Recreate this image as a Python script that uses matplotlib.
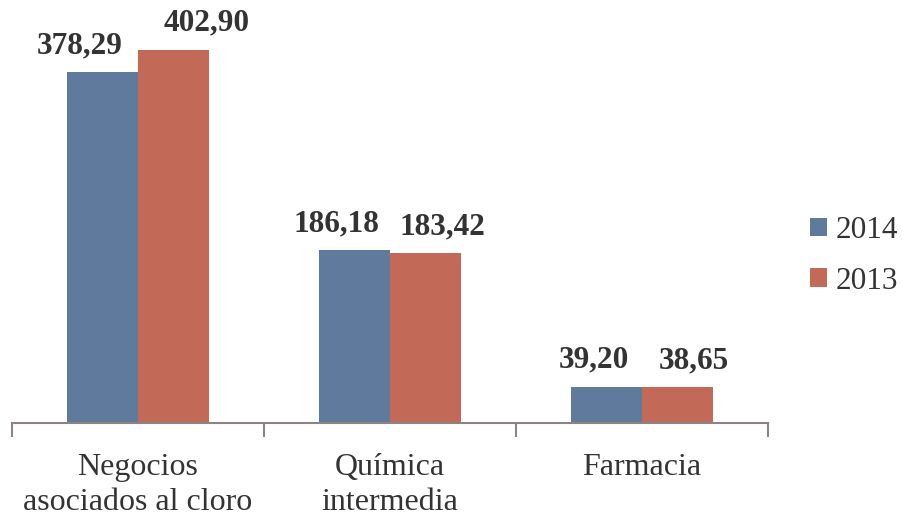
import matplotlib
matplotlib.use("Agg")
import matplotlib.pyplot as plt
import numpy as np

categories = ["Negocios\nasociados al cloro", "Química\nintermedia", "Farmacia"]
series_names = ["2014", "2013"]
values_2014 = [378.29, 186.18, 39.20]
values_2013 = [402.90, 183.42, 38.65]
labels_2014 = ["378,29", "186,18", "39,20"]
labels_2013 = ["402,90", "183,42", "38,65"]

# horizontal nudges (pixels) of the value labels, as placed in the reference
nudge_2014 = [-23, -18, -13]
nudge_2013 = [33, 17, 17]

colors = ["#5F7A9C", "#C26958"]
plt.rcParams['font.family'] = ['Liberation Serif', 'DejaVu Serif']

fig = plt.figure(figsize=(9.03, 5.16), dpi=100)
ax = fig.add_axes([12/903, (516-423)/516, (768-12)/903, (423-6)/516])

x = np.arange(len(categories))
w = 0.28
b1 = ax.bar(x - w/2, values_2014, w, color=colors[0], label=series_names[0])
b2 = ax.bar(x + w/2, values_2013, w, color=colors[1], label=series_names[1])

for bars, labs, nud in ((b1, labels_2014, nudge_2014), (b2, labels_2013, nudge_2013)):
    for rect, lab, dx in zip(bars, labs, nud):
        ax.annotate(lab, (rect.get_x() + rect.get_width()/2, rect.get_height()),
                    xytext=(dx, 19), textcoords="offset pixels", ha="center", va="baseline",
                    fontsize=22.5, fontweight="bold", color="#333333")

ax.set_xlim(-0.5, 2.5)
ax.set_ylim(0, 450)
ax.set_yticks([])
for s in ["top", "right", "left"]:
    ax.spines[s].set_visible(False)
ax.spines["bottom"].set_color("#8C8484")
ax.spines["bottom"].set_linewidth(1.5)

ax.set_xticks(x)
ax.set_xticklabels(categories, fontsize=23, color="#333333", linespacing=1.3)
ax.tick_params(axis="x", which="major", length=0, pad=21.5)
ax.set_xticks([-0.5, 0.5, 1.5, 2.5], minor=True)
ax.tick_params(axis="x", which="minor", length=10, width=1.5, color="#8C8484", direction="out")

leg = fig.legend(handles=[b1, b2], labels=series_names, loc="center left",
                 bbox_to_anchor=(810/903, 1 - 256/516), bbox_transform=fig.transFigure,
                 frameon=False, fontsize=22.5, handlelength=0.55, handleheight=0.55,
                 handletextpad=0.26, labelspacing=0.7, borderpad=0, borderaxespad=0,
                 labelcolor="#333333")

fig.savefig("out.png", dpi=100)
